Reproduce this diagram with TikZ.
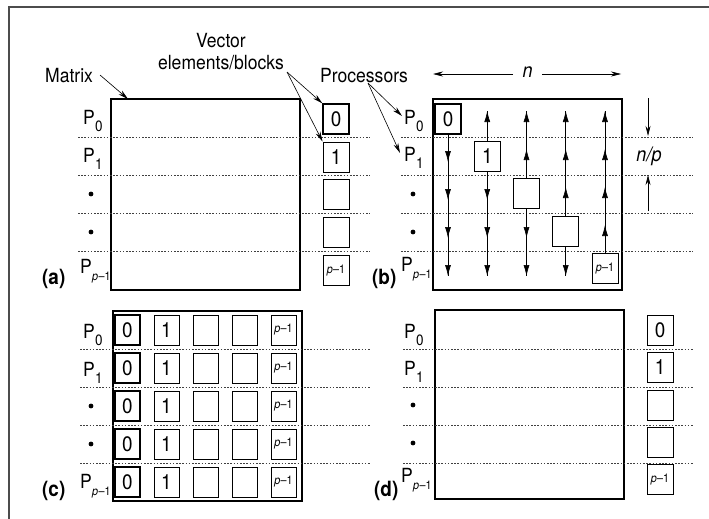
\documentclass[tikz,border=0pt]{standalone}
\usepackage{fontspec}
\setmainfont{TeX Gyre Heros}[FakeStretch=0.9]
\usetikzlibrary{arrows.meta}
\newcommand\Plab[1]{P\kern0.3pt\raisebox{-7pt}{\fontsize{15}{15}\selectfont #1}}
\newcommand\Plast{P\kern0.3pt\raisebox{-7pt}{\fontsize{12}{12}\selectfont\textit{p}\kern0.3pt–1}}
\newcommand\pmo{{\fontsize{12}{12}\selectfont\textit{p}\kern0.3pt–1}}
\begin{document}
\begin{tikzpicture}[x=1pt,y=-1pt,
  mat/.style={draw, line width=1.1pt, inner sep=0pt},
  vbox/.style={draw, line width=0.9pt, minimum width=26pt, minimum height=30pt, inner sep=0pt, font=\fontsize{21}{21}\selectfont},
  vboxb/.style={vbox, line width=1.3pt},
  sep/.style={line width=0.7pt, dash pattern=on 1.6pt off 1.6pt, black!75},
  lbl/.style={font=\fontsize{19.5}{21}\selectfont, inner sep=0pt, anchor=base west},
  tag/.style={font=\fontsize{21}{23}\selectfont\bfseries, inner sep=0pt, anchor=base west},
  pr/.style={-{Stealth[length=10pt,width=5pt]}, line width=0.6pt},
  flow/.style={-{Latex[length=11pt,width=6pt]}, line width=0.6pt},
  line/.style={line width=0.6pt}
]
\useasboundingbox (0,0) rectangle (709,519);
% outer frame
\draw[line width=1.2pt, black!70] (709,7) -- (9,7) -- (9,519);

% ===================== (a)
\node[mat, minimum width=189pt, minimum height=191pt] (Ma) at (205.5,194.5) {};
\foreach \y in {137,175,213,251} \draw[sep] (78,\y) -- (370,\y);
\node[vboxb] (a0) at (336,119) {0};
\node[vbox] (a1) at (336,157) {1};
\node[vbox] (a2) at (336,194.5) {};
\node[vbox] (a3) at (336,232.5) {};
\node[vbox] (a4) at (336,270.5) {\pmo};
\node[lbl] (aP0) at (83,124) {\Plab{0}};
\node[lbl] (aP1) at (83,162) {\Plab{1}};
\fill (91,194) circle (2.4);
\fill (91,232) circle (2.4);
\node[lbl] (aPl) at (80,273) {\Plast};
\node[tag] (ta) at (42,284) {(a)};
\node[lbl] (mlab) at (45,82) {Matrix};
\coordinate (mtail) at (100,75);
\coordinate (mtip) at (128,99);
\draw[pr] (mtail) -- (mtip);
\node[lbl, anchor=base] (vlab1) at (221,48) {Vector};
\node[lbl, anchor=base] (vlab2) at (221,70) {elements/blocks};
\coordinate (vtail) at (287,72);
\draw[pr] (vtail) -- (a0.north west);
\draw[pr] (vtail) -- (a1.north west);

% ===================== (b)
\node[lbl] (plab) at (320,82) {Processors};
\coordinate (ptail) at (368,83);
\coordinate (ptip0) at (402,116);
\coordinate (ptip1) at (400,153);
\draw[pr] (ptail) -- (ptip0);
\draw[pr] (ptail) -- (ptip1);

\node[mat, minimum width=189pt, minimum height=191pt] (Mb) at (527.5,194.5) {};
\foreach \y in {137,175,213,251} \draw[sep] (401,\y) -- (693,\y);
\node[lbl] (bP0) at (404,124) {\Plab{0}};
\node[lbl] (bP1) at (404,161) {\Plab{1}};
\fill (413,194) circle (2.4);
\fill (413,232) circle (2.4);
\node[lbl] (bPl) at (401,271) {\Plast};
\node[tag] (tb) at (372,284) {(b)};

% n dimension
\node[font=\fontsize{20}{21}\selectfont\itshape, inner sep=0pt] (nlab) at (527.5,72) {n};
\coordinate (nl) at (433,74);
\coordinate (nr) at (621,74);
\coordinate (nl0) at (513,74);
\coordinate (nr0) at (542,74);
\draw[pr] (nl0) -- (nl);
\draw[pr] (nr0) -- (nr);
% n/p dimension
\node[font=\fontsize{20}{21}\selectfont\itshape, inner sep=0pt, anchor=base] (nplab) at (649,161) {n/p};
\coordinate (npa0) at (648,98);
\coordinate (npa1) at (648,136);
\coordinate (npb0) at (648,211);
\coordinate (npb1) at (648,175);
\draw[pr] (npa0) -- (npa1);
\draw[pr] (npb0) -- (npb1);

% diagonal blocks and broadcast arrows
\node[vboxb] (b0) at (448,119) {0};
\node[vbox] (b1) at (487.25,156) {1};
\node[vbox] (b2) at (526.5,193.5) {};
\node[vbox] (b3) at (565.75,231) {};
\node[vbox] (b4) at (605,268.5) {\pmo};
\foreach \j in {0,...,4} {
  \pgfmathsetmacro\cx{448+39.25*\j}
  \ifnum\j>0
    \draw[line] (\cx,111) -- (b\j.north);
  \fi
  \ifnum\j<4
    \draw[line] (b\j.south) -- (\cx,276);
  \fi
  \foreach \i in {0,...,4} {
    \pgfmathsetmacro\ry{118+38*\i}
    \ifnum\i<\j
      \draw[flow] (\cx,\ry+4) -- (\cx,\ry-7);
    \fi
    \ifnum\i>\j
      \draw[flow] (\cx,\ry-5) -- (\cx,\ry+6);
    \fi
  }
}

% ===================== (c)
\node[mat, minimum width=189pt, minimum height=190pt] (Mc) at (207.5,406) {};
\foreach \y in {349,387,425,463} \draw[sep] (80,\y) -- (370,\y);
\foreach \i in {0,...,4} {
  \pgfmathsetmacro\ry{330+38*\i}
  \node[vboxb, minimum width=25pt] (c\i0) at (127.5,\ry) {0};
  \node[vbox, minimum width=25pt] (c\i1) at (166.5,\ry) {1};
  \node[vbox, minimum width=25pt] (c\i2) at (205.5,\ry) {};
  \node[vbox, minimum width=25pt] (c\i3) at (244.5,\ry) {};
  \node[vbox, minimum width=25pt] (c\i4) at (283.5,\ry) {\pmo};
}
\node[lbl] (cP0) at (83,338) {\Plab{0}};
\node[lbl] (cP1) at (83,376) {\Plab{1}};
\fill (91,406) circle (2.4);
\fill (91,444) circle (2.4);
\node[lbl] (cPl) at (80,488) {\Plast};
\node[tag] (tc) at (42,496) {(c)};

% ===================== (d)
\node[mat, minimum width=189pt, minimum height=189pt] (Md) at (529.5,404.5) {};
\foreach \y in {349,387,425,463} \draw[sep] (403,\y) -- (693,\y);
\node[vbox] (d0) at (660,330) {0};
\node[vbox] (d1) at (660,367.5) {1};
\node[vbox] (d2) at (660,405) {};
\node[vbox] (d3) at (660,442.5) {};
\node[vbox] (d4) at (660,479.5) {\pmo};
\node[lbl] (dP0) at (404,338) {\Plab{0}};
\node[lbl] (dP1) at (404,375) {\Plab{1}};
\fill (413,405) circle (2.4);
\fill (413,443) circle (2.4);
\node[lbl] (dPl) at (401,482) {\Plast};
\node[tag] (td) at (374,496) {(d)};
\end{tikzpicture}
\end{document}
